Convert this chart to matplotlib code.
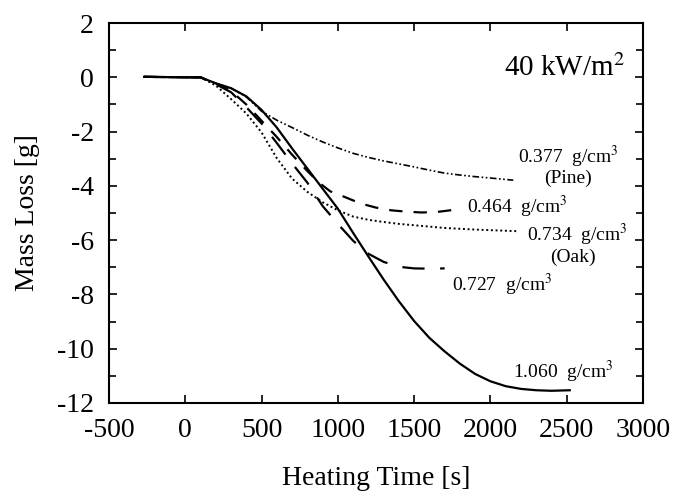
import numpy as np
import matplotlib
matplotlib.use('Agg')
import matplotlib.pyplot as plt

plt.rcParams['font.family'] = ['Liberation Serif', 'DejaVu Serif']
plt.rcParams['mathtext.fontset'] = 'stix'
plt.rcParams['axes.unicode_minus'] = False

# heating time [s] / mass loss [g]
t_1060 = [-270, 0, 100, 200, 300, 400, 500, 600, 700, 800, 900, 1000, 1100, 1200, 1300,
          1400, 1500, 1600, 1700, 1800, 1900, 2000, 2100, 2200, 2300, 2400, 2520]
m_1060 = [0.02, 0.0, 0.0, -0.22, -0.4, -0.7, -1.2, -1.85, -2.62, -3.36, -4.1, -4.84, -5.73,
          -6.6, -7.45, -8.25, -8.98, -9.6, -10.1, -10.55, -10.93, -11.2, -11.38, -11.48,
          -11.53, -11.55, -11.53]

t_377 = [-270, 0, 100, 200, 300, 400, 500, 600, 700, 800, 900, 1000, 1100, 1200, 1300,
         1400, 1500, 1600, 1700, 1800, 1900, 2000, 2150]
m_377 = [0.02, 0.0, 0.0, -0.22, -0.4, -0.72, -1.25, -1.58, -1.85, -2.13, -2.38, -2.6, -2.8,
         -2.95, -3.08, -3.19, -3.3, -3.42, -3.53, -3.6, -3.66, -3.71, -3.79]

t_464 = [-270, 0, 100, 200, 300, 400, 500, 600, 700, 800, 870, 950, 1050, 1150, 1250,
         1350, 1450, 1550, 1650, 1750]
m_464 = [0.02, 0.0, 0.0, -0.24, -0.5, -1.0, -1.6, -2.2, -2.85, -3.45, -3.85, -4.2, -4.42,
         -4.65, -4.8, -4.9, -4.95, -4.98, -4.96, -4.89]

t_734 = [-270, 0, 100, 200, 300, 400, 500, 600, 700, 800, 900, 1000, 1100, 1200, 1300,
         1400, 1500, 1700, 1900, 2180]
m_734 = [0.02, 0.0, 0.0, -0.3, -0.8, -1.33, -2.03, -2.98, -3.73, -4.22, -4.6, -4.9, -5.13,
         -5.25, -5.33, -5.4, -5.45, -5.55, -5.61, -5.67]

t_727 = [-270, 0, 100, 200, 300, 400, 500, 600, 700, 800, 900, 1000, 1100, 1190, 1300,
         1400, 1500, 1600, 1700]
m_727 = [0.02, 0.0, 0.0, -0.25, -0.55, -1.1, -1.7, -2.42, -3.17, -3.88, -4.74, -5.4, -6.02,
         -6.47, -6.8, -6.98, -7.04, -7.05, -7.04]

fig = plt.figure(figsize=(6.74, 4.96), dpi=100)
ax = fig.add_axes([0.1617, 0.1875, 0.7923, 0.766])

ax.plot(t_1060, m_1060, color='black', lw=1.6, linestyle='-')
ax.plot(t_377, m_377, color='black', lw=1.2, linestyle=(0, (4, 1.5, 1, 1.5, 1, 1.5)))
ax.plot(t_464, m_464, color='black', lw=1.6, linestyle=(0, (6, 5)))
ax.plot(t_734, m_734, color='black', lw=1.4, linestyle=(0, (1, 1.4)))
ax.plot(t_727, m_727, color='black', lw=1.6, linestyle=(0, (10, 7)))

fs = 14
ax.text(2882, 0.34, r'40 kW/m$^2$', fontsize=21, ha='right', va='center')
ax.text(2508, -2.94, r'0.377  g/cm$^3$', fontsize=fs, ha='center', va='center')
ax.text(2508, -3.71, '(Pine)', fontsize=fs, ha='center', va='center')
ax.text(1846, -4.78, r'0.464  g/cm$^3$', fontsize=fs, ha='left', va='center')
ax.text(2240, -5.81, r'0.734  g/cm$^3$', fontsize=fs, ha='left', va='center')
ax.text(2541, -6.62, '(Oak)', fontsize=fs, ha='center', va='center')
ax.text(1748, -7.65, r'0.727  g/cm$^3$', fontsize=fs, ha='left', va='center')
ax.text(2148, -10.86, r'1.060  g/cm$^3$', fontsize=fs, ha='left', va='center')

ax.set_xlim(-500, 3000)
ax.set_ylim(-12, 2)
ax.set_xticks(np.arange(-500, 3001, 500))
ax.set_yticks(np.arange(-12, 3, 2))
ax.set_yticks(np.arange(-11, 2, 2), minor=True)
ax.tick_params(which='both', direction='in', top=True, right=True, width=1.2)
ax.tick_params(which='major', length=6, labelsize=20, pad=11)
ax.tick_params(which='minor', length=5)
for s in ax.spines.values():
    s.set_linewidth(1.5)

ax.set_xlabel('Heating Time [s]', fontsize=20)
ax.set_ylabel('Mass Loss [g]', fontsize=20)
ax.xaxis.set_label_coords(0.5, -0.165)
ax.yaxis.set_label_coords(-0.13, 0.5)

fig.savefig('out.png', dpi=100)
